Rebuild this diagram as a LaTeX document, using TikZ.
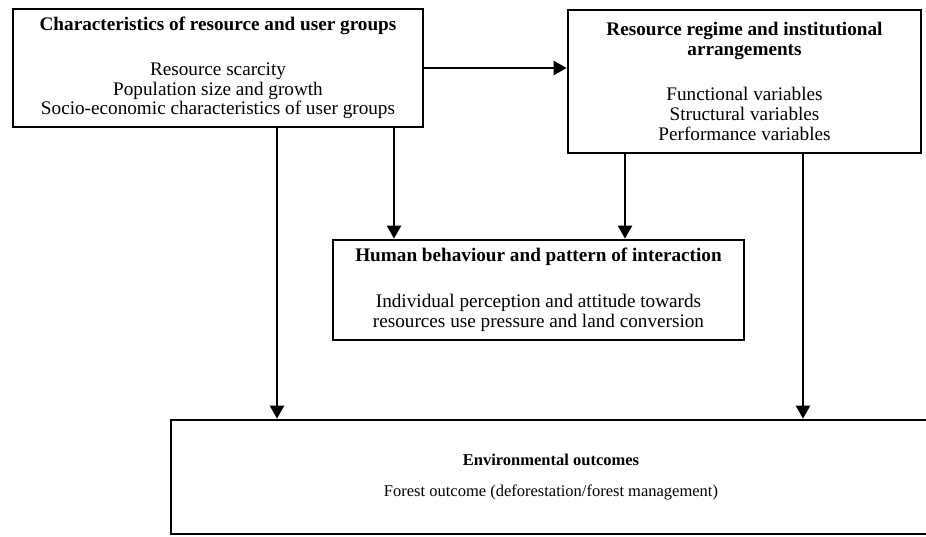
\documentclass[tikz,border=0pt]{standalone}
\usepackage{fontspec}
\setmainfont{Liberation Serif}
\usetikzlibrary{arrows.meta}

\begin{document}
\begin{tikzpicture}[x=1pt,y=-1pt,>={Triangle[length=13pt,width=14pt]},
    box/.style={draw,line width=2.7pt,align=center,inner sep=0pt,font=\fontsize{19.2}{19.8}\selectfont},
    link/.style={->,line width=2.2pt}]
        \clip (0,0) rectangle (926,536);
        \node[box,minimum width=410,minimum height=118] (chars) at (218,68)
          {\textbf{Characteristics of resource and user groups}\\[25pt]
           Resource scarcity\\ Population size and growth\\ Socio-economic characteristics of user groups};
        \node[box,minimum width=353,minimum height=143] (regime) at (744.5,81.5)
          {\textbf{Resource regime and institutional}\\ \textbf{arrangements}\\[25pt]
           Functional variables\\ Structural variables\\ Performance variables};
        \node[box,minimum width=411,minimum height=100] (human) at (538.5,290)
          {\textbf{Human behaviour and pattern of interaction}\\[26pt]
           Individual perception and attitude towards\\ resources use pressure and land conversion};
        \node[box,minimum width=760,minimum height=114,font=\fontsize{16.5}{19}\selectfont] (env) at (551,477)
          {\textbf{Environmental outcomes}\\[12pt]
           Forest outcome (deforestation/forest management)};
        \coordinate (colA) at (277,0);
        \coordinate (colB) at (394,0);
        \coordinate (colC) at (625,0);
        \coordinate (colD) at (803,0);
        \draw[link] (chars.east) -- (chars.east -| regime.west);
        \draw[link] (chars.south -| colA) -- (env.north -| colA);
        \draw[link] (chars.south -| colB) -- (human.north -| colB);
        \draw[link] (regime.south -| colC) -- (human.north -| colC);
        \draw[link] (regime.south -| colD) -- (env.north -| colD);
      \end{tikzpicture}
\end{document}
